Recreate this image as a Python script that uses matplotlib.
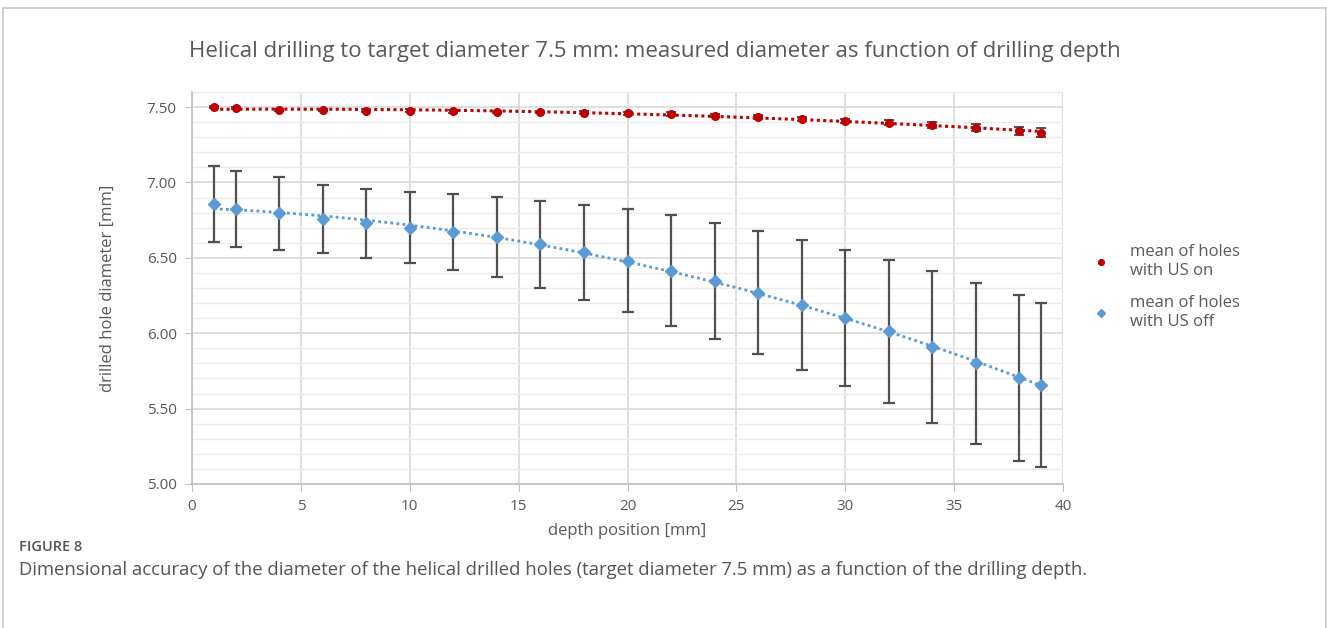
import numpy as np
import matplotlib.pyplot as plt
from matplotlib.lines import Line2D
from matplotlib.ticker import MultipleLocator

plt.rcParams['font.family'] = ['Open Sans', 'DejaVu Sans']

# depth positions [mm]
depth = [1, 2, 4, 6, 8, 10, 12, 14, 16, 18, 20, 22, 24, 26, 28, 30, 32, 34, 36, 38, 39]

# mean diameter, US on
mean_on = [7.500, 7.492, 7.482, 7.480, 7.476, 7.476, 7.472, 7.468, 7.467, 7.463, 7.458,
           7.454, 7.444, 7.433, 7.419, 7.408, 7.396, 7.380, 7.364, 7.340, 7.331]
err_on = [0.008, 0.008, 0.008, 0.008, 0.008, 0.008, 0.008, 0.009, 0.009, 0.010, 0.010,
          0.011, 0.012, 0.013, 0.014, 0.016, 0.018, 0.022, 0.022, 0.028, 0.030]

# mean diameter, US off
mean_off = [6.855, 6.827, 6.795, 6.758, 6.728, 6.701, 6.672, 6.637, 6.590, 6.538, 6.482,
            6.416, 6.346, 6.268, 6.189, 6.103, 6.012, 5.911, 5.800, 5.701, 5.657]
err_off = [0.252, 0.252, 0.240, 0.228, 0.231, 0.238, 0.251, 0.265, 0.287, 0.315, 0.340,
           0.365, 0.382, 0.409, 0.431, 0.451, 0.475, 0.504, 0.535, 0.551, 0.542]

red = '#C00000'
blue = '#5B9BD5'
grey_txt = '#595959'
grid_c = '#D9D9D9'

fig = plt.figure(figsize=(13.27, 6.28), dpi=100)
ax = fig.add_axes([192 / 1327, 1 - 484 / 628, (1063 - 192) / 1327, (484 - 92) / 628])

# trendlines (2nd order polynomial fits)
xs = np.linspace(min(depth), max(depth), 200)
p_on = np.polyfit(depth, mean_on, 2)
p_off = np.polyfit(depth, mean_off, 2)
ax.plot(xs, np.polyval(p_on, xs), color=red, lw=2.2, ls=(0, (1, 1.1)), zorder=2)
ax.plot(xs, np.polyval(p_off, xs), color=blue, lw=2, ls=(0, (1, 1.2)), zorder=2)

ax.errorbar(depth, mean_off, yerr=err_off, fmt='none', ecolor='#505050',
            elinewidth=1.6, capsize=4, capthick=1.6, zorder=3)
ax.errorbar(depth, mean_on, yerr=err_on, fmt='none', ecolor='#505050',
            elinewidth=1.4, capsize=3.5, capthick=1.4, zorder=3)
ax.plot(depth, mean_off, 'D', color=blue, ms=6, ls='none', zorder=4,
        label='mean of holes\nwith US off')
ax.plot(depth, mean_on, 'o', color=red, ms=5.5, ls='none', zorder=4,
        label='mean of holes\nwith US on')

ax.set_xlim(0, 40)
ax.set_ylim(5.0, 7.6)
ax.xaxis.set_major_locator(MultipleLocator(5))
ax.yaxis.set_minor_locator(MultipleLocator(0.1))
ax.set_yticks([5.0, 5.5, 6.0, 6.5, 7.0, 7.5])
ax.set_yticklabels([f'{v:.2f}' for v in [5.0, 5.5, 6.0, 6.5, 7.0, 7.5]])
ax.grid(True, which='major', color=grid_c, lw=1.2)
ax.grid(True, which='minor', axis='y', color='#EBEBEB', lw=1.0)
ax.set_axisbelow(True)
for s in ['top', 'right']:
    ax.spines[s].set_visible(False)
for s in ['left', 'bottom']:
    ax.spines[s].set_color('#BFBFBF')
    ax.spines[s].set_linewidth(1.2)
ax.tick_params(which='major', length=5, color='#BFBFBF', labelsize=11,
               labelcolor=grey_txt, pad=6)
ax.tick_params(which='minor', length=0)

ax.set_xlabel('depth position [mm]', fontsize=12, color=grey_txt, labelpad=6)
ax.set_ylabel('drilled hole diameter [mm]', fontsize=12, color=grey_txt, labelpad=22)

fig.text(655 / 1327, 1 - 52 / 628,
         'Helical drilling to target diameter 7.5 mm: measured diameter as function of drilling depth',
         ha='center', va='center', fontsize=16, color=grey_txt)

h, l = ax.get_legend_handles_labels()
leg = fig.legend(h[::-1], l[::-1], loc='center left', bbox_to_anchor=(1078 / 1327, 1 - 287 / 628),
                 frameon=False, fontsize=12, labelspacing=1.0, handlelength=1.0,
                 handletextpad=1.2, markerscale=0.75)
for t in leg.get_texts():
    t.set_color(grey_txt)

# caption
fig.text(19 / 1327, 1 - 547 / 628, 'FIGURE 8', ha='left', va='center',
         fontsize=10.5, color='#555555', fontweight='semibold')
fig.text(19 / 1327, 1 - 570 / 628,
         'Dimensional accuracy of the diameter of the helical drilled holes (target diameter 7.5 mm) '
         'as a function of the drilling depth.',
         ha='left', va='center', fontsize=13.3, color='#555555')

# outer frame
fc = '#C8C8C8'
fig.add_artist(Line2D([3 / 1327, 1326 / 1327], [1 - 8 / 628, 1 - 8 / 628], color=fc, lw=1.2))
fig.add_artist(Line2D([3 / 1327, 3 / 1327], [0, 1 - 8 / 628], color=fc, lw=1.2))
fig.add_artist(Line2D([1325.5 / 1327, 1325.5 / 1327], [0, 1 - 8 / 628], color=fc, lw=1.2))

fig.savefig('out.png', dpi=100)
